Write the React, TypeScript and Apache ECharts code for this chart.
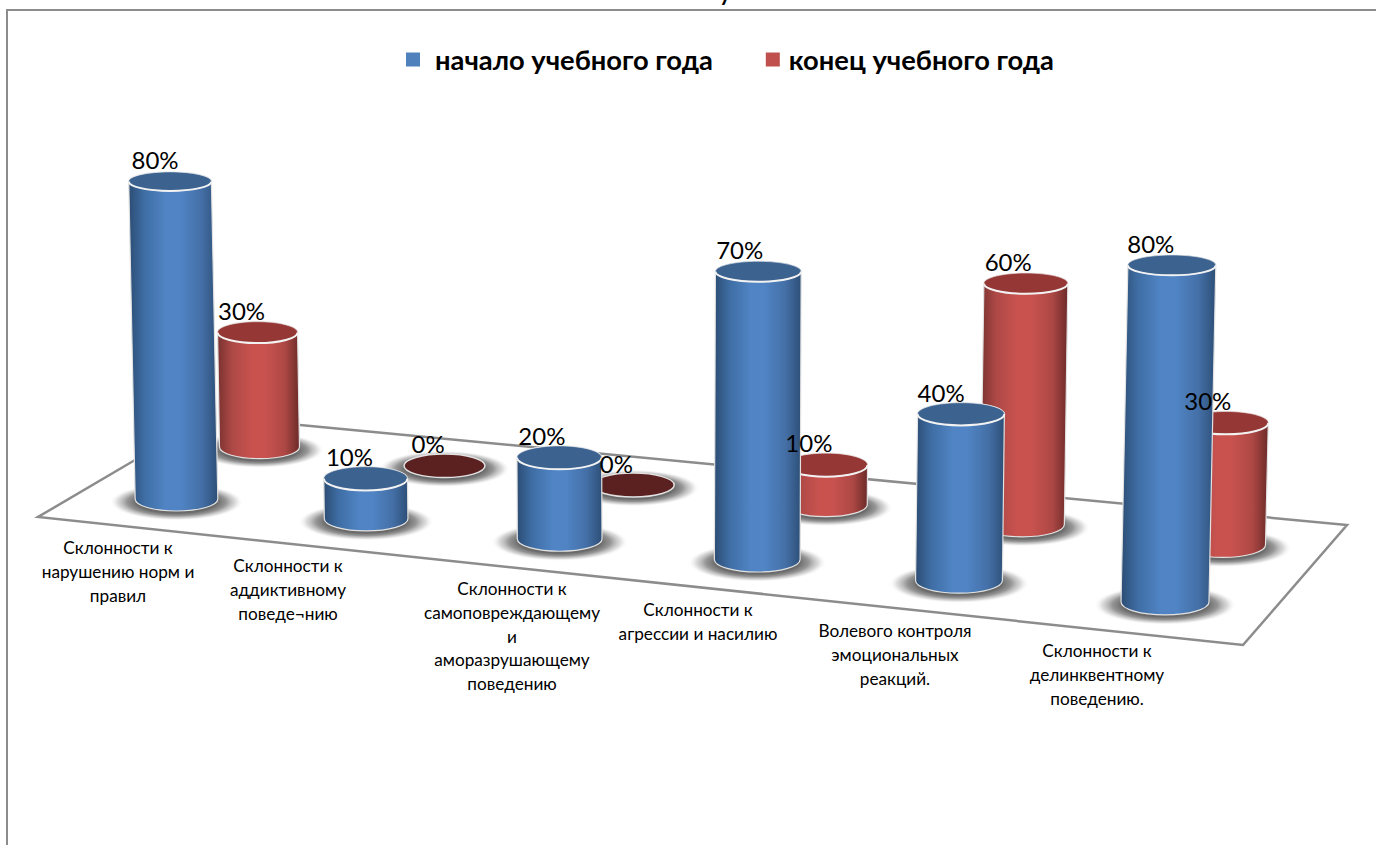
import React, { useEffect, useRef } from "react";
import * as echarts from "echarts";

const categories = [
  "Склонности к\nнарушению норм и\nправил",
  "Склонности к\nаддиктивному\nповеде¬нию",
  "Склонности к\nсамоповреждающему\nи\nаморазрушающему\nповедению",
  "Склонности к\nагрессии и насилию",
  "Волевого контроля\nэмоциональных\nреакций.",
  "Склонности к\nделинквентному\nповедению.",
];
const startValues = [80, 10, 20, 70, 40, 80];
const endValues = [30, 0, 0, 10, 60, 30];
const seriesNames = ["начало учебного года", "конец учебного года"];

const FONT = "Lato, 'Noto Sans', sans-serif";
const labelAnchors = [
  [118, 536], [288, 554], [512, 577], [698, 598], [895, 619], [1097, 639],
];

// camera: floor points of the first / last category in the front and back rows
const quad = [[176.5, 499], [1165, 602], [1223, 545], [259.5, 447]];
function makeHomography() {
  const [[x0, y0], [x1, y1], [x2, y2], [x3, y3]] = quad;
  const dx1 = x1 - x2, dx2 = x3 - x2, sx = x0 - x1 + x2 - x3;
  const dy1 = y1 - y2, dy2 = y3 - y2, sy = y0 - y1 + y2 - y3;
  const den = dx1 * dy2 - dx2 * dy1;
  const g = (sx * dy2 - dx2 * sy) / den;
  const h = (dx1 * sy - sx * dy1) / den;
  const a = x1 - x0 + g * x1, b = x3 - x0 + h * x3;
  const d = y1 - y0 + g * y1, e = y3 - y0 + h * y3;
  return (u: number, v: number) => {
    const uu = u - 0.012 * u * (1 - u);
    const w = g * uu + h * v + 1;
    return [(a * uu + b * v + x0) / w, (d * uu + e * v + y0) / w];
  };
}
const project = makeHomography();

const palettes = [
  {
    top: "#3c6290",
    stops: ["#2c4d74", "#3f6ea5", "#5084c4", "#446fa6", "#2d4f77"],
  },
  {
    top: "#953735",
    stops: ["#7a3230", "#ad4946", "#c9524f", "#ad4845", "#6c2b29"],
  },
];

const ryAt = (y: number) => 9.5 + (y - 181) * 0.0079;

function makeRenderItem(row: number) {
  const pal = palettes[row];
  return (params: any, api: any) => {
    const i = api.value(0);
    const value = api.value(1);
    const p0 = api.coord([0, 0])[0];
    const p5 = api.coord([categories.length - 1, 0])[0];
    const u = (api.coord([i, 0])[0] - p0) / (p5 - p0);
    const [bx, by] = project(u, row);
    const k = (row ? 3.82 + 0.25 * u : 3.97 + 0.24 * u) / 4;
    const h = api.size([0, value])[1] * k;
    const tx = bx + h * (bx - 670) * 4.1e-5;
    const ty = by - h;
    const rx = 40 + (by - 447) * 0.0256;
    const ryB = ryAt(by);
    const ryT = ryAt(ty);
    const children: any[] = [
      {
        type: "ellipse",
        shape: { cx: bx, cy: by + 3, rx: rx * 1.62, ry: ryB * 1.55 },
        style: {
          fill: new echarts.graphic.RadialGradient(0.5, 0.5, 0.5, [
            { offset: 0, color: "#6a6a6a" },
            { offset: 0.6, color: "#6a6a6a" },
            { offset: 0.74, color: "rgba(135,135,135,0.88)" },
            { offset: 0.88, color: "rgba(190,190,190,0.55)" },
            { offset: 1, color: "rgba(255,255,255,0)" },
          ]),
        },
      },
    ];
    if (value > 0) {
      const d = `M ${bx - rx} ${by} A ${rx} ${ryB} 0 0 0 ${bx + rx} ${by} L ${tx + rx} ${ty} A ${rx} ${ryT} 0 0 0 ${tx - rx} ${ty} Z`;
      children.push({
        type: "path",
        shape: { pathData: d },
        style: {
          fill: new echarts.graphic.LinearGradient(0, 0, 1, 0, [
            { offset: 0, color: pal.stops[0] },
            { offset: 0.18, color: pal.stops[1] },
            { offset: 0.42, color: pal.stops[2] },
            { offset: 0.58, color: pal.stops[2] },
            { offset: 0.82, color: pal.stops[3] },
            { offset: 1, color: pal.stops[4] },
          ]),
          stroke: "#e2e2e2",
          lineWidth: 1.2,
        },
      });
    }
    children.push({
      type: "ellipse",
      shape: { cx: tx, cy: ty, rx, ry: ryT },
      style: value > 0
        ? { fill: pal.top, stroke: "rgba(255,255,255,0.5)", lineWidth: 1 }
        : { fill: "#5a2120", stroke: "#e2e2e2", lineWidth: 1.5 },
    });
    if (value > 0) {
      children.push({
        type: "path",
        shape: { pathData: `M ${tx - rx} ${ty} A ${rx} ${ryT} 0 0 0 ${tx + rx} ${ty}` },
        style: { fill: "none", stroke: "#f2f2f2", lineWidth: 2 },
      });
    }
    children.push({
      type: "text",
      z2: 100,
      style: {
        text: `${value}%`,
        x: tx - (row ? 16 + 2 * u : 15 + 6 * u),
        y: ty - 22,
        align: "center",
        verticalAlign: "middle",
        fontFamily: FONT,
        fontSize: 24,
        fill: "#000",
      },
    });
    return { type: "group", children };
  };
}

export default function App() {
  const ref = useRef<HTMLDivElement>(null);
  useEffect(() => {
    const chart = echarts.init(ref.current!, undefined, { renderer: "svg" });
    chart.setOption({
      animation: false,
      backgroundColor: "#fff",
      grid: { left: 100, top: 100, width: 1000, height: 400 },
      xAxis: { type: "category", data: categories, show: false },
      yAxis: { type: "value", min: 0, max: 100, show: false },
      legend: {
        left: 401,
        top: 41,
        icon: "rect",
        itemWidth: 14,
        itemHeight: 14,
        itemGap: 53,
        data: [
          { name: seriesNames[0], textStyle: { padding: [0, 0, 0, 10] } },
          { name: seriesNames[1], textStyle: { padding: [0, 0, 0, 4] } },
        ],
        textStyle: { fontFamily: FONT, fontSize: 27.3, fontWeight: "bold", color: "#000" },
      },
      graphic: [
        {
          type: "polyline",
          shape: { points: [[7, 845], [7, 10], [1376, 10]] },
          style: { fill: "none", stroke: "#8c8c8c", lineWidth: 2 },
        },
        {
          type: "text",
          style: {
            text: "у",
            x: 725,
            y: -19,
            align: "center",
            verticalAlign: "top",
            fontFamily: FONT,
            fontSize: 22,
            fontWeight: "bold",
            fill: "#000",
          },
        },
        {
          type: "polyline",
          shape: { points: [[135, 460], [38, 517], [1243, 645], [1347, 525], [300, 425]] },
          style: { fill: "none", stroke: "#8c8c8c", lineWidth: 2.5 },
        },
        ...categories.map((c, i) => ({
          type: "text",
          style: {
            text: c,
            x: labelAnchors[i][0],
            y: labelAnchors[i][1],
            align: "center",
            verticalAlign: "top",
            lineHeight: 23.6,
            fontFamily: FONT,
            fontSize: 17.2,
            fill: "#000",
          },
        })),
      ],
      series: [
        {
          name: seriesNames[1],
          type: "custom",
          itemStyle: { color: "#c0504d" },
          renderItem: makeRenderItem(1),
          data: endValues.map((v, i) => [i, v]),
        },
        {
          name: seriesNames[0],
          type: "custom",
          itemStyle: { color: "#4f81bd" },
          renderItem: makeRenderItem(0),
          data: startValues.map((v, i) => [i, v]),
        },
      ],
    });
    return () => chart.dispose();
  }, []);
  return <div ref={ref} style={{ position: "absolute", left: 0, top: 0, width: 1376, height: 845 }} />;
}
